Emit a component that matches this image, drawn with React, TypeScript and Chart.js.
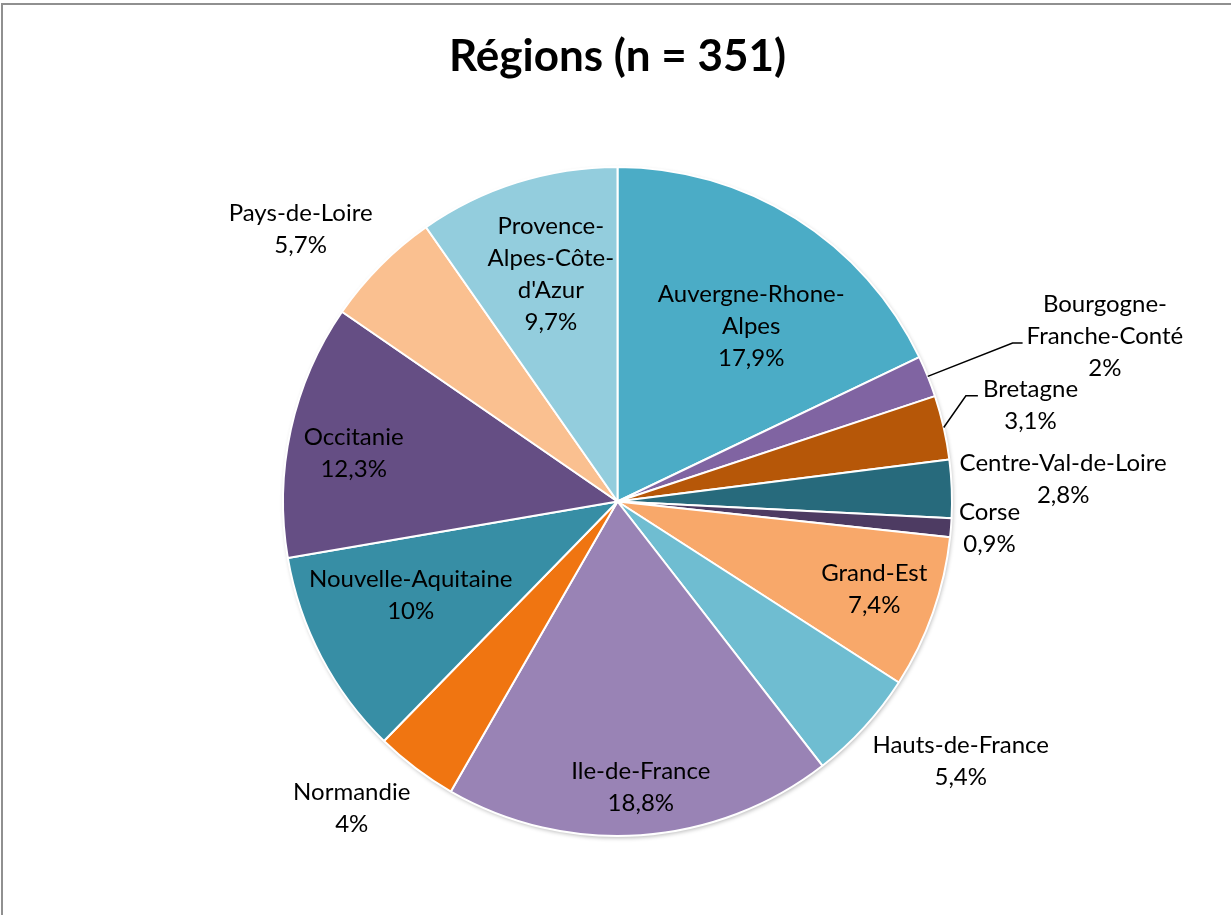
import React, { useEffect, useRef } from "react";
import { Chart, registerables } from "chart.js";

Chart.register(...registerables);

const titleText = "Régions (n = 351)";

const categories = [
  "Auvergne-Rhone-Alpes",
  "Bourgogne-Franche-Conté",
  "Bretagne",
  "Centre-Val-de-Loire",
  "Corse",
  "Grand-Est",
  "Hauts-de-France",
  "Ile-de-France",
  "Normandie",
  "Nouvelle-Aquitaine",
  "Occitanie",
  "Pays-de-Loire",
  "Provence-Alpes-Côte-d'Azur",
];

const values = [17.9, 2, 3.1, 2.8, 0.9, 7.4, 5.4, 18.8, 4, 10, 12.3, 5.7, 9.7];

const labelLines = [
  ["Auvergne-Rhone-", "Alpes"],
  ["Bourgogne-", "Franche-Conté"],
  ["Bretagne"],
  ["Centre-Val-de-Loire"],
  ["Corse"],
  ["Grand-Est"],
  ["Hauts-de-France"],
  ["Ile-de-France"],
  ["Normandie"],
  ["Nouvelle-Aquitaine"],
  ["Occitanie"],
  ["Pays-de-Loire"],
  ["Provence-", "Alpes-Côte-", "d'Azur"],
];

const colors = [
  "#4BACC6",
  "#8064A2",
  "#B65708",
  "#276A7C",
  "#4D3B62",
  "#F8A86A",
  "#6FBDD1",
  "#9983B5",
  "#F07511",
  "#378EA5",
  "#654E84",
  "#FAC090",
  "#93CDDD",
];

// label placement: radius as fraction of the pie radius, and angle shift (deg) from slice mid-angle
const labelRadius = [0.658, 1.539, 1.268, 1.334, 1.115, 0.811, 1.287, 0.858, 1.214, 0.679, 0.802, 1.248, 0.707];
const labelAngleShift = [5.2, 3.2, -0.4, -0.7, -0.4, -0.6, -5.35, -0.7, 3.8, 3.3, -2.0, -4.2, 1.1];
// leader lines: [index, y offset from label center, elbow gap from label left, end gap]
const leaders = [
  [1, 7, 14, 4],
  [2, -9, 17, 5],
];

const FONT = "Lato, 'Open Sans', sans-serif";
const LABEL_SIZE = 24;
const LINE_H = 32;

const fmt = (v: number) => String(v).replace(".", ",") + "%";

const labelPlugin = {
  id: "sliceLabels",
  beforeDatasetsDraw(chart: any) {
    const meta = chart.getDatasetMeta(0);
    const a = meta.data[0];
    if (!a) return;
    const ctx = chart.ctx;
    ctx.save();
    ctx.beginPath();
    ctx.arc(a.x, a.y, a.outerRadius, 0, Math.PI * 2);
    ctx.shadowColor = "rgba(0,0,0,0.28)";
    ctx.shadowBlur = 4;
    ctx.shadowOffsetX = 1;
    ctx.shadowOffsetY = 2;
    ctx.fillStyle = "#ffffff";
    ctx.fill();
    ctx.restore();
  },
  afterDatasetsDraw(chart: any) {
    const meta = chart.getDatasetMeta(0);
    const ctx = chart.ctx;
    ctx.save();
    ctx.font = `${LABEL_SIZE}px ${FONT}`;
    ctx.fillStyle = "#000";
    ctx.textAlign = "center";
    ctx.textBaseline = "middle";
    const boxes: any[] = [];
    meta.data.forEach((arc: any, i: number) => {
      const mid = (arc.startAngle + arc.endAngle) / 2 + (labelAngleShift[i] * Math.PI) / 180;
      const r = arc.outerRadius * labelRadius[i];
      const cx = arc.x + Math.cos(mid) * r;
      const cy = arc.y + Math.sin(mid) * r;
      const lines = [...labelLines[i], fmt(values[i])];
      const top = cy - ((lines.length - 1) * LINE_H) / 2;
      let maxW = 0;
      lines.forEach((t, k) => {
        ctx.fillText(t, cx, top + k * LINE_H);
        maxW = Math.max(maxW, ctx.measureText(t).width);
      });
      boxes[i] = { cx, cy, left: cx - maxW / 2 };
    });
    ctx.strokeStyle = "#000";
    ctx.lineWidth = 1.5;
    leaders.forEach(([i, dy, elbow, gap]) => {
      const arc = meta.data[i];
      const b = boxes[i];
      const mid = (arc.startAngle + arc.endAngle) / 2;
      const sx = arc.x + Math.cos(mid) * arc.outerRadius;
      const sy = arc.y + Math.sin(mid) * arc.outerRadius;
      const y = b.cy + dy;
      ctx.beginPath();
      ctx.moveTo(sx, sy);
      ctx.lineTo(b.left - elbow, y);
      ctx.lineTo(b.left - gap, y);
      ctx.stroke();
    });
    ctx.restore();
  },
};

export default function App() {
  const ref = useRef<HTMLCanvasElement | null>(null);
  useEffect(() => {
    if (!ref.current) return;
    const chart = new Chart(ref.current, {
      type: "pie",
      data: {
        labels: categories,
        datasets: [
          {
            data: values,
            backgroundColor: colors,
            borderColor: "#ffffff",
            borderWidth: 2,
          },
        ],
      },
      options: {
        responsive: false,
        animation: false,
        layout: { padding: { left: 282, right: 278, top: 0, bottom: 78 } },
        plugins: {
          legend: { display: false },
          tooltip: { enabled: false },
          title: {
            display: true,
            text: titleText,
            color: "#000",
            font: { family: FONT, size: 44, weight: "bold", lineHeight: 1.2 },
            padding: { top: 30.6, bottom: 82.6 },
          },
        },
      },
      plugins: [labelPlugin],
    });
    return () => chart.destroy();
  }, []);
  return (
    <div style={{ position: "fixed", left: 0, top: 0, width: 1231, height: 915, overflow: "hidden", background: "#fff" }}>
      <canvas ref={ref} width={1231} height={915} style={{ position: "absolute", left: 0, top: 0 }} />
      <div
        style={{
          position: "absolute",
          left: 1,
          top: 3,
          width: 1300,
          height: 1000,
          borderLeft: "2px solid #909090",
          borderTop: "2px solid #909090",
          pointerEvents: "none",
        }}
      />
    </div>
  );
}
